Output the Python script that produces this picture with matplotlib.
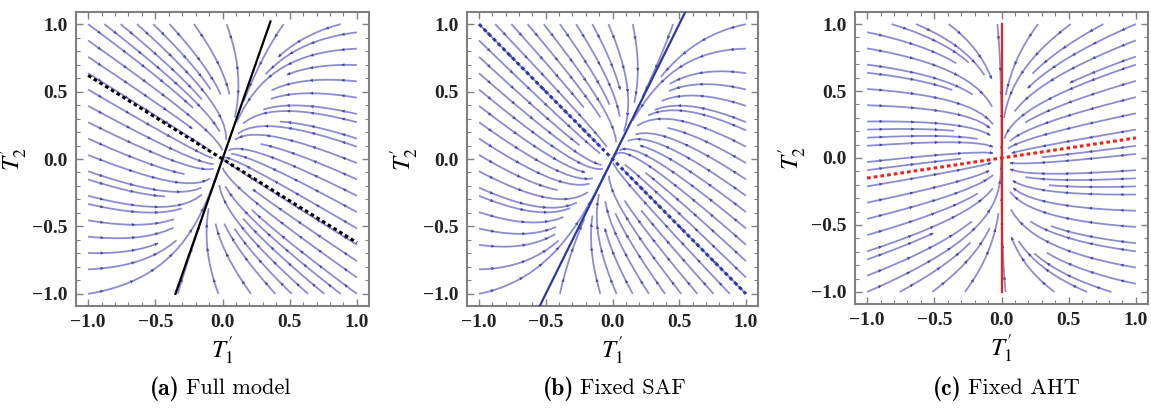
import numpy as np
import matplotlib
matplotlib.use('Agg')
from matplotlib import pyplot as plt
from matplotlib.patches import FancyArrowPatch
from matplotlib.ticker import MultipleLocator, FuncFormatter

plt.rcParams['mathtext.fontset'] = 'stix'

# eigen-directions (slow = solid line, fast = dashed line)
PANELS = ['a', 'b', 'c']
CAPTIONS = ['Full model', 'Fixed SAF', 'Fixed AHT']
SLOW_DIRS = [(0.35, 1.0), (0.5, 1.0), (0.0, 1.0)]
FAST_DIRS = [(1.0, -0.62), (1.0, -1.0), (1.0, 0.15)]
SLOW_RATES = [1.0, 1.0, 1.0]
FAST_RATES = [3.0, 3.0, 3.0]
# extent of the solid lines along y and dashed lines along x
SOLID_Y = [(-1.0, 1.02), (-1.09, 1.09), (-1.0, 1.0)]
DASH_X = [(-1.0, 1.0), (-1.0, 1.0), (-1.0, 1.0)]
LINE_COLORS = ['black', '#2b3a9c', '#e8231e']

STREAM_COLOR = '#8c8cd2'
ARROW_COLOR = '#4848a8'
ARROW_STEP = 0.2   # arc length between arrowheads
LIM = 1.09

AX_POS = [
    [76 / 1151, 102 / 408, 293 / 1151, 294 / 408],
    [467 / 1151, 102 / 408, 291 / 1151, 294 / 408],
    [855 / 1151, 104 / 408, 293 / 1151, 292 / 408],
]
CAPTION_X = [180 / 1151, 574 / 1151, 962 / 1151]


def system_matrix(v_slow, v_fast, l_slow, l_fast):
    V = np.array([v_slow, v_fast], dtype=float).T
    D = np.diag([-l_slow, -l_fast])
    return V @ D @ np.linalg.inv(V)


def minus_fmt(v, pos):
    return ('%.1f' % v).replace('-', '\u2212')


def add_arrows(ax, seg):
    # small arrowheads spaced along each streamline, like Mathematica's StreamPlot
    d = np.hypot(np.diff(seg[:, 0]), np.diff(seg[:, 1]))
    s = np.concatenate([[0], np.cumsum(d)])
    if s[-1] < 0.1:
        return
    pos = np.arange(ARROW_STEP / 2, s[-1] - 0.02, ARROW_STEP)
    for p in pos:
        k = np.searchsorted(s, p)
        k = min(max(k, 1), len(seg) - 1)
        a, b = seg[k - 1], seg[k]
        if np.allclose(a, b):
            continue
        ax.add_patch(FancyArrowPatch(a, b, arrowstyle='-|>', mutation_scale=6,
                                     color=ARROW_COLOR, lw=0, zorder=3,
                                     shrinkA=0, shrinkB=0))


fig = plt.figure(figsize=(11.51, 4.08), dpi=100)

x = np.linspace(-1, 1, 101)
X, Y = np.meshgrid(x, x)

for i in range(3):
    ax = fig.add_axes(AX_POS[i])
    A = system_matrix(SLOW_DIRS[i], FAST_DIRS[i], SLOW_RATES[i], FAST_RATES[i])
    U = A[0, 0] * X + A[0, 1] * Y
    W = A[1, 0] * X + A[1, 1] * Y

    sp = ax.streamplot(X, Y, U, W, density=1.15, color=STREAM_COLOR, linewidth=1.3,
                       arrowsize=0.6, minlength=0.25)
    for p in list(ax.patches):
        p.remove()
    for seg in sp.lines.get_segments():
        add_arrows(ax, np.asarray(seg))

    # slow eigen-direction (solid)
    sx, sy = SLOW_DIRS[i]
    ys = np.array(SOLID_Y[i])
    xs = ys * sx / sy
    ax.plot(xs, ys, color=LINE_COLORS[i], lw=1.6, zorder=5)

    # fast eigen-direction (dashed)
    fx, fy = FAST_DIRS[i]
    xd = np.array(DASH_X[i])
    yd = xd * fy / fx
    ax.plot(xd, yd, color=LINE_COLORS[i], lw=2.2, ls=(0, (1.2, 1.0)), zorder=5)

    ax.set_xlim(-LIM, LIM)
    ax.set_ylim(-LIM, LIM)
    ax.xaxis.set_major_locator(MultipleLocator(0.5))
    ax.yaxis.set_major_locator(MultipleLocator(0.5))
    ax.xaxis.set_minor_locator(MultipleLocator(0.1))
    ax.yaxis.set_minor_locator(MultipleLocator(0.1))
    ax.xaxis.set_major_formatter(FuncFormatter(minus_fmt))
    ax.yaxis.set_major_formatter(FuncFormatter(minus_fmt))
    ax.tick_params(which='both', direction='in', top=True, right=True,
                   color='#808080', labelsize=14, pad=6)
    ax.tick_params(which='major', length=5, width=1)
    ax.tick_params(which='minor', length=3, width=0.8)
    for lab in ax.get_xticklabels() + ax.get_yticklabels():
        lab.set_family('Liberation Serif')
        lab.set_weight('bold')
        lab.set_color('#222222')
    for s in ax.spines.values():
        s.set_color('#808080')
        s.set_linewidth(1.5)

    ax.set_xlabel(r"$T^{\prime}_{1}$", fontsize=18, labelpad=2)
    ax.set_ylabel(r"$T^{\prime}_{2}$", fontsize=18, labelpad=2)

    fig.text(CAPTION_X[i], 0.048, '(%s)' % PANELS[i], family='cmb10', fontsize=17,
             ha='right', va='center')
    fig.text(CAPTION_X[i] + 0.005, 0.048, CAPTIONS[i], family='cmr10', fontsize=16,
             ha='left', va='center')

fig.savefig('out.png', dpi=100)
